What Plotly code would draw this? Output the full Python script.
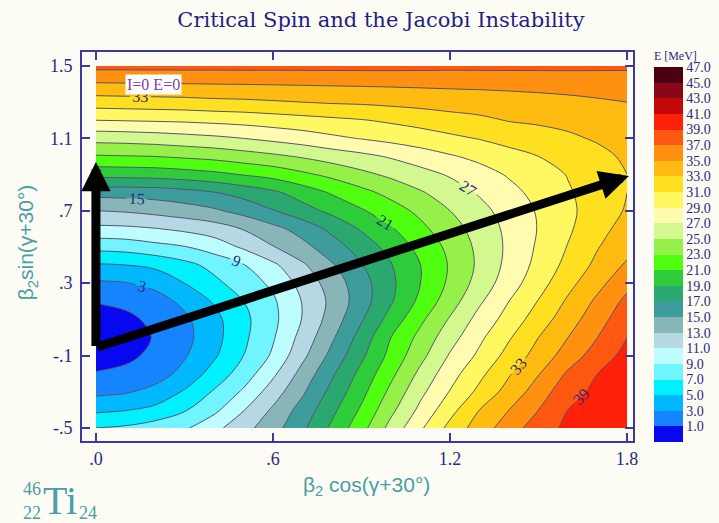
import plotly.graph_objects as go

# ---- data ----
xs = [0.0, 0.1, 0.2, 0.3, 0.4, 0.5, 0.6, 0.7, 0.8, 0.9, 1.0,
      1.1, 1.2, 1.3, 1.4, 1.5, 1.6, 1.7, 1.8]
ys = [-0.5, -0.4, -0.3, -0.2, -0.1, 0.0, 0.1, 0.2, 0.3, 0.4, 0.5,
      0.6, 0.7, 0.8, 0.9, 1.0, 1.1, 1.2, 1.3, 1.4, 1.5]
E = [
    [7.0, 7.3, 8.0, 8.7, 10.4, 12.3, 14.2, 16.6, 19.4, 22.3, 25.7, 28.7, 31.6, 34.0, 36.0, 38.1, 39.4, 40.1, 40.8],
    [4.6, 4.9, 5.5, 6.8, 8.5, 10.9, 13.3, 15.8, 18.5, 21.3, 24.5, 27.5, 30.3, 33.0, 35.0, 37.0, 39.0, 39.8, 40.6],
    [2.5, 2.8, 3.6, 5.2, 7.2, 9.3, 12.0, 14.7, 17.6, 20.4, 23.5, 26.5, 29.1, 31.5, 33.8, 35.9, 38.4, 39.4, 40.3],
    [1.1, 1.4, 2.1, 3.6, 5.8, 7.9, 10.6, 13.7, 16.7, 19.6, 22.5, 25.5, 28.2, 30.5, 32.8, 34.9, 37.3, 39.0, 40.0],
    [0.3, 0.6, 1.4, 2.8, 4.7, 7.0, 9.3, 12.5, 15.6, 18.6, 21.6, 24.4, 27.2, 29.4, 31.7, 33.8, 35.9, 38.0, 39.6],
    [0.0, 0.3, 1.1, 2.4, 4.3, 6.6, 8.8, 11.7, 14.7, 17.8, 21.0, 23.6, 26.2, 28.6, 30.8, 33.0, 35.0, 37.0, 39.0],
    [0.3, 0.6, 1.4, 2.6, 4.4, 6.5, 8.5, 11.1, 13.9, 16.8, 19.8, 22.6, 25.2, 27.7, 29.8, 32.0, 34.1, 36.2, 38.3],
    [1.1, 1.4, 2.1, 3.5, 5.2, 7.0, 8.7, 11.1, 13.5, 16.1, 18.8, 21.5, 24.1, 26.7, 29.0, 31.1, 33.3, 35.4, 37.5],
    [2.7, 2.9, 3.6, 5.0, 6.5, 8.0, 9.4, 11.7, 13.9, 16.2, 18.6, 21.0, 23.4, 25.8, 28.1, 30.2, 32.4, 34.4, 36.4],
    [4.8, 5.0, 5.4, 6.4, 7.6, 8.9, 10.6, 12.7, 14.8, 16.9, 18.9, 21.0, 23.2, 25.4, 27.6, 29.6, 31.6, 33.5, 35.3],
    [7.6, 7.8, 8.4, 8.9, 9.9, 11.3, 12.9, 14.4, 16.1, 17.9, 19.7, 21.6, 23.5, 25.5, 27.4, 29.3, 31.1, 32.9, 34.3],
    [10.5, 10.6, 10.9, 11.4, 12.0, 13.1, 14.4, 15.8, 17.5, 19.2, 20.8, 22.5, 24.2, 25.8, 27.5, 29.1, 30.7, 32.4, 33.7],
    [13.0, 13.2, 13.6, 14.1, 14.7, 15.7, 16.9, 18.2, 19.5, 20.8, 22.1, 23.5, 25.0, 26.4, 27.8, 29.2, 30.6, 31.9, 33.2],
    [15.7, 15.8, 15.9, 16.3, 16.9, 17.7, 18.6, 19.9, 21.2, 22.4, 23.6, 24.8, 26.0, 27.2, 28.4, 29.6, 30.8, 31.9, 33.0],
    [19.6, 19.7, 19.8, 20.1, 20.5, 21.1, 21.7, 22.6, 23.5, 24.5, 25.4, 26.3, 27.2, 28.2, 29.2, 30.1, 31.1, 32.0, 33.0],
    [22.8, 22.9, 23.0, 23.3, 23.6, 24.1, 24.6, 25.2, 25.9, 26.5, 27.2, 28.0, 28.8, 29.5, 30.3, 31.0, 31.8, 32.5, 33.3],
    [25.7, 25.8, 26.0, 26.3, 26.6, 27.0, 27.5, 28.0, 28.6, 29.1, 29.6, 30.1, 30.6, 31.1, 31.7, 32.2, 32.7, 33.2, 33.7],
    [29.0, 29.1, 29.2, 29.3, 29.5, 29.7, 30.0, 30.3, 30.6, 30.9, 31.3, 31.7, 32.2, 32.6, 33.1, 33.3, 33.5, 33.9, 34.3],
    [32.0, 32.1, 32.2, 32.3, 32.5, 32.6, 32.8, 33.0, 33.2, 33.3, 33.5, 33.7, 33.9, 34.0, 34.2, 34.4, 34.6, 34.8, 35.0],
    [34.8, 34.85, 34.9, 34.95, 35.0, 35.05, 35.1, 35.15, 35.2, 35.25, 35.3, 35.35, 35.4, 35.45, 35.5, 35.55, 35.6, 35.7, 35.8],
    [37.6, 37.6, 37.6, 37.6, 37.6, 37.6, 37.6, 37.6, 37.6, 37.6, 37.6, 37.55, 37.5, 37.5, 37.5, 37.5, 37.5, 37.45, 37.4],
]
band_colors = [
    "#0808f0", "#1784ff", "#00b8ff", "#00f0ff", "#70f4ff", "#bdfcff",
    "#b5d8e4", "#88b5b8", "#3d9c9c", "#2ba870", "#2ecc3a", "#50ff10",
    "#96f04a", "#d4f890", "#fffcb0", "#fff860", "#ffe020", "#ffbb10",
    "#ff9010", "#ff5810", "#ff2008", "#c40808", "#880818", "#4a0010",
]
cb_tickvals = [1, 3, 5, 7, 9, 11, 13, 15, 17, 19, 21, 23, 25, 27, 29, 31,
               33, 35, 37, 39, 41, 43, 45, 47]
cb_ticktext = ["%.1f" % v for v in cb_tickvals]
x_tickvals = [0.0, 0.6, 1.2, 1.8]
x_ticktext = [".0", ".6", "1.2", "1.8"]
y_tickvals = [-0.5, -0.1, 0.3, 0.7, 1.1, 1.5]
y_ticktext = ["-.5", "-.1", ".3", ".7", "1.1", "1.5"]

# ---- styling ----
SERIF = "Liberation Serif"
NAVY = "#2a2a80"
TEAL = "#4a9ea6"
LINEC = "#55556e"
BG = "#fcfbf4"
SMOOTH = 1.0

n = len(band_colors)
fill_scale = [[k / (n - 1), c] for k, c in enumerate(band_colors)]
cb_scale = []
for k, c in enumerate(band_colors):
    cb_scale.append([k / n, c])
    cb_scale.append([(k + 1) / n, c])

fig = go.Figure()

# filled bands
fig.add_trace(go.Contour(
    x=xs, y=ys, z=E, autocontour=False,
    contours=dict(start=1, end=45, size=2, coloring="fill", showlines=False),
    colorscale=fill_scale, showscale=False,
    line=dict(smoothing=SMOOTH, width=0), hoverinfo="skip"))
# unlabeled lines
for st in (1, 5):
    fig.add_trace(go.Contour(
        x=xs, y=ys, z=E, autocontour=False,
        contours=dict(start=st, end=47, size=6, coloring="none",
                      showlines=True),
        line=dict(color=LINEC, width=1, smoothing=SMOOTH), showscale=False,
        hoverinfo="skip"))
# labeled lines
fig.add_trace(go.Contour(
    x=xs, y=ys, z=E, autocontour=False,
    contours=dict(start=3, end=45, size=6, coloring="none", showlines=True,
                  showlabels=True,
                  labelfont=dict(family=SERIF, size=16, color=NAVY)),
    line=dict(color=LINEC, width=1, smoothing=SMOOTH), showscale=False,
    hoverinfo="skip"))
# colour bar carrier (placed outside the visible axis range)
fig.add_trace(go.Heatmap(
    x=[10.0], y=[10.0], z=[[0.0]], zmin=-1, zmax=47, colorscale=cb_scale,
    showscale=True, hoverinfo="skip",
    colorbar=dict(x=(657 - 82) / 554, xanchor="left", thickness=29,
                  len=(442 - 48) / 389, lenmode="fraction",
                  y=(441 - 442) / 389, yanchor="bottom", xpad=0, ypad=0,
                  outlinewidth=0, ticks="", tickvals=cb_tickvals,
                  ticktext=cb_ticktext,
                  tickfont=dict(family=SERIF, size=14, color=NAVY),
                  title=dict(text="E [MeV]", side="top",
                             font=dict(family=SERIF, size=12, color=NAVY)))))

axis_common = dict(showgrid=False, zeroline=False, showline=True,
                   linecolor="#3a3aa0", linewidth=2, mirror="ticks",
                   ticks="inside", ticklen=8, tickwidth=2,
                   tickcolor="#3a3aa0",
                   tickfont=dict(family=SERIF, size=18, color=NAVY))
fig.update_xaxes(range=[-0.0472, 1.820], tickvals=x_tickvals,
                 ticktext=x_ticktext, **axis_common)
fig.update_yaxes(range=[-0.572, 1.577], tickvals=y_tickvals,
                 ticktext=y_ticktext, ticklabelstandoff=4, **axis_common)


def pann(px, py, text, size, color, family=SERIF, angle=0):
    return dict(x=(px - 82) / 554, y=(441 - py) / 389, xref="paper",
                yref="paper", xanchor="center", yanchor="middle",
                text=text, showarrow=False, textangle=angle,
                font=dict(family=family, size=size, color=color))


ann = []
# arrows
ann.append(dict(x=0.0, y=0.97, ax=0.0, ay=-0.055, xref="x", yref="y",
                axref="x", ayref="y", text="", showarrow=True, arrowhead=2,
                arrowsize=0.65, arrowwidth=9, arrowcolor="black"))
ann.append(dict(x=1.806, y=0.892, ax=0.0, ay=-0.055, xref="x", yref="y",
                axref="x", ayref="y", text="", showarrow=True, arrowhead=2,
                arrowsize=0.65, arrowwidth=9, arrowcolor="black"))
# I=0 E=0 box
ann.append(dict(x=0.196, y=1.40, xref="x", yref="y", text="I=0 E=0",
                xanchor="center", yanchor="middle",
                showarrow=False, bgcolor="white", borderpad=1,
                font=dict(family=SERIF, size=16, color="#7a3fa0")))
# axis titles
ann.append(pann(368, 486, "β<sub>2</sub> cos(γ+30°)", 21, TEAL,
                family="Liberation Sans"))
ann.append(pann(27, 242, "β<sub>2</sub>sin(γ+30°)", 21, TEAL,
                family="Liberation Sans", angle=-90))
# nucleus label
ann.append(pann(32, 489, "46", 18, TEAL))
ann.append(pann(32, 513, "22", 18, TEAL))
ann.append(pann(60, 500, "Ti", 40, TEAL))
ann.append(pann(88, 513, "24", 18, TEAL))

fig.update_layout(
    width=719, height=523,
    margin=dict(l=82, r=83, t=52, b=82),
    paper_bgcolor=BG, plot_bgcolor=BG,
    showlegend=False,
    title=dict(text="Critical Spin and the Jacobi Instability",
               x=381 / 719, xanchor="center", xref="container",
               y=1 - 20 / 523, yanchor="middle",
               font=dict(family="DejaVu Serif", size=21, color="#1f1f85")),
    annotations=ann,
)

fig.write_html("out.html")
